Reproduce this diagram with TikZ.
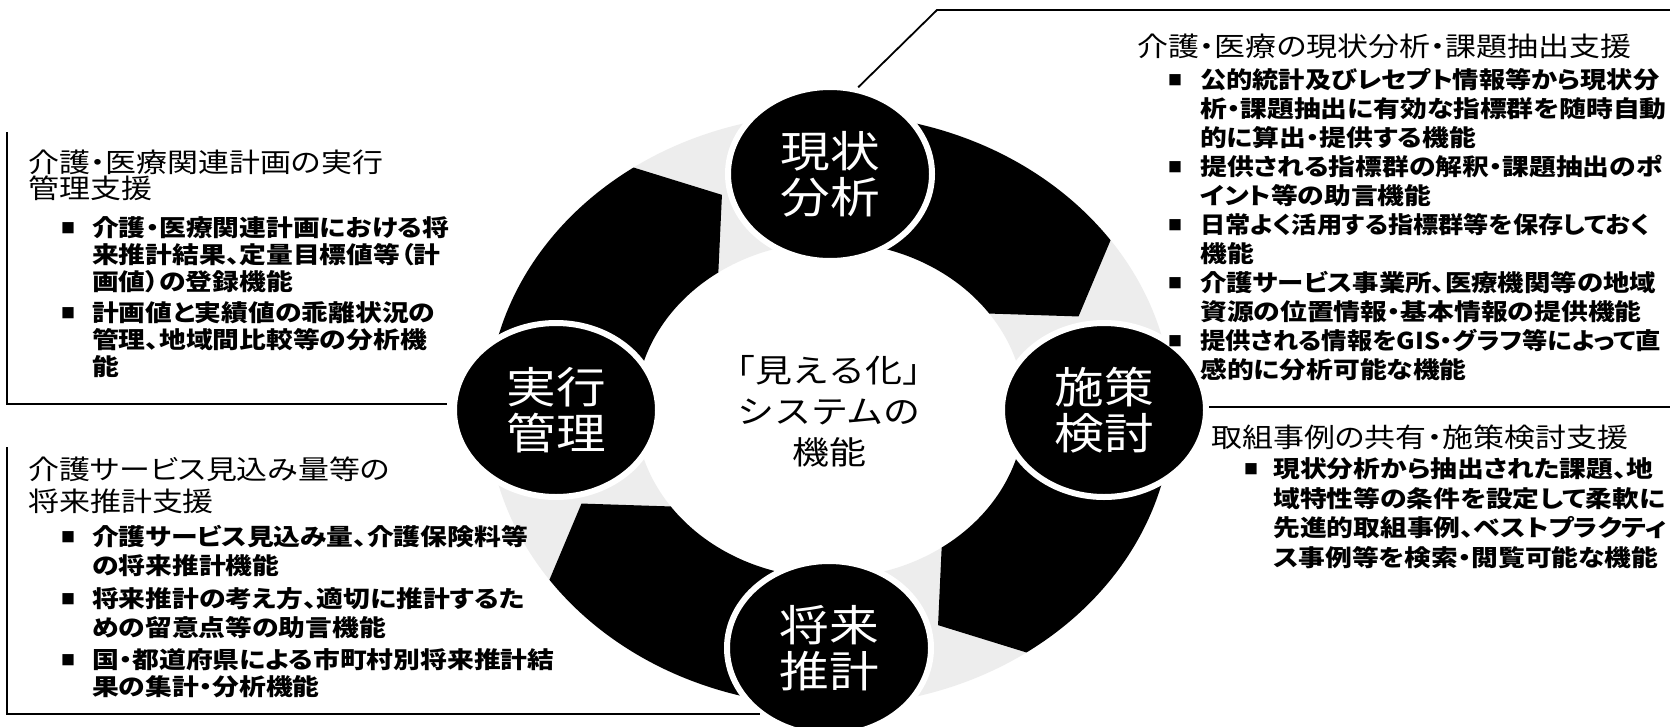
\documentclass[tikz,border=0pt]{standalone}
\usepackage{fontspec}
\usepackage{graphicx}
\usetikzlibrary{shapes.geometric}
\newfontfamily\jp[FakeStretch=1.155,RawFeature=+palt]{Noto Sans CJK JP}
\newfontfamily\jpw[FakeStretch=1.155]{Noto Sans CJK JP}
\newfontfamily\jpn{Noto Sans CJK JP}
\newcommand\ttlfont{\jp\fontsize{26.8}{26.8}\selectfont}
\newcommand\bdyfont{\jp\bfseries\fontsize{23.2}{23.2}\selectfont}
\newcommand\bulfont{\jpn\fontsize{14}{14}\selectfont}
\newcommand\hubfont{\jpw\fontsize{43}{46}\selectfont}
\newcommand\cenfont{\jpw\fontsize{32}{41}\selectfont}
\newcommand\sqz[2]{\scalebox{#1}[1]{#2}}
% ring segment: #1 start angle (hidden under a hub), #2 end corner angle
\newcommand\ringseg[2]{%
  \fill[black] plot[domain=0:1, samples=60]
      ({830+342.5*cos(#2+(#1-(#2))*\x)},{410-296*sin(#2+(#1-(#2))*\x)})
    -- plot[domain=0:1, samples=60]
      ({830+194.5*cos(#1+(#2-(#1))*\x)},{410-168*sin(#1+(#2-(#1))*\x)})
    -- ({830+271*cos(#2-11.5)},{410-234.6*sin(#2-11.5)}) -- cycle;}
\begin{document}
\begin{tikzpicture}[x=1pt,y=-1pt,
  ttl/.style={anchor=base west, inner sep=0, font=\ttlfont},
  bdy/.style={anchor=base west, inner sep=0, font=\bdyfont},
  bul/.style={anchor=base west, inner sep=0, font=\bulfont},
  hub/.style={ellipse, fill=black, draw=white, line width=6pt,
    minimum width=204pt, minimum height=174pt, inner sep=0pt,
    text=white, align=center, font=\hubfont},
  leader/.style={line width=1.8pt, draw=black}]
\useasboundingbox (0,0) rectangle (1670,726);
\clip (0,0) rectangle (1670,726);
\fill[white] (0,0) rectangle (1670,726);

% ring
\fill[black!7, even odd rule] (830,410) ellipse [x radius=342.5pt, y radius=296pt]
  (830,410) ellipse [x radius=194.5pt, y radius=168pt];
\ringseg{90}{35}
\ringseg{0}{-55}
\ringseg{-90}{-145}
\ringseg{-180}{-235}

% hubs
\node[hub] (gen) at (830,174) {現状\\分析};
\node[hub] (sak) at (1104,410) {施策\\検討};
\node[hub] (sho) at (829,648) {将来\\推計};
\node[hub] (jik) at (556,410) {実行\\管理};
\node[align=center, font=\cenfont, inner sep=0] (cen) at (829,411) {「見える化」\\システムの\\機能};

% leaders
\coordinate (trc) at (937,10);
\coordinate (tre) at (1670,10);
\draw[leader] (gen.72) -- (trc) -- (tre);
\coordinate (tl1) at (7,132);
\coordinate (tl2) at (7,404);
\coordinate (tl3) at (447,404);
\draw[leader] (tl1) -- (tl2) -- (tl3);
\coordinate (bl1) at (7,447);
\coordinate (bl2) at (7,714);
\coordinate (bl3) at (760,714);
\draw[leader] (bl1) -- (bl2) -- (bl3);
\coordinate (rm1) at (1670,407);
\draw[leader] (sak.east |- rm1) -- (rm1);

% top-right block
\node[ttl] (tr0) at (1137,56) {介護・医療の現状分析・課題抽出支援};
\node[bul] (trb1) at (1168,85.3) {■};
\node[bdy] (tr1a) at (1200,88.8) {\sqz{0.98}{公的統計及びレセプト情報等から現状分}};
\node[bdy] (tr1b) at (1200,117.8) {析・課題抽出に有効な指標群を随時自動};
\node[bdy] (tr1c) at (1200,146.8) {的に算出・提供する機能};
\node[bul] (trb2) at (1168,172.3) {■};
\node[bdy] (tr2a) at (1200,175.8) {提供される指標群の解釈・課題抽出のポ};
\node[bdy] (tr2b) at (1200,204.8) {イント等の助言機能};
\node[bul] (trb3) at (1168,230.3) {■};
\node[bdy] (tr3a) at (1200,233.8) {\sqz{0.94}{日常よく活用する指標群等を保存しておく}};
\node[bdy] (tr3b) at (1200,262.8) {機能};
\node[bul] (trb4) at (1168,288.3) {■};
\node[bdy] (tr4a) at (1200,291.8) {\sqz{0.985}{介護サービス事業所、医療機関等の地域}};
\node[bdy] (tr4b) at (1200,320.8) {資源の位置情報・基本情報の提供機能};
\node[bul] (trb5) at (1168,346.3) {■};
\node[bdy] (tr5a) at (1200,349.8) {\sqz{0.945}{提供される情報をGIS・グラフ等によって直}};
\node[bdy] (tr5b) at (1200,378.8) {感的に分析可能な機能};

% top-left block
\node[ttl] (tl0a) at (28,172.5) {介護・医療関連計画の実行};
\node[ttl] (tl0b) at (28,198.5) {管理支援};
\node[bul] (tlb1) at (61,233.3) {■};
\node[bdy] (tl1a) at (92,236.8) {介護・医療関連計画における将};
\node[bdy] (tl1b) at (92,263.8) {来推計結果、定量目標値等（計};
\node[bdy] (tl1c) at (92,290.8) {画値）の登録機能};
\node[bul] (tlb2) at (61,318.3) {■};
\node[bdy] (tl2a) at (92,321.8) {計画値と実績値の乖離状況の};
\node[bdy] (tl2b) at (92,348.8) {管理、地域間比較等の分析機};
\node[bdy] (tl2c) at (92,375.8) {能};

% bottom-left block
\node[ttl] (bl0a) at (28,479) {介護サービス見込み量等の};
\node[ttl] (bl0b) at (28,511) {将来推計支援};
\node[bul] (blb1) at (61,542.3) {■};
\node[bdy] (bl1a) at (92,545.8) {介護サービス見込み量、介護保険料等};
\node[bdy] (bl1b) at (92,574.8) {の将来推計機能};
\node[bul] (blb2) at (61,604.3) {■};
\node[bdy] (bl2a) at (92,607.8) {将来推計の考え方、適切に推計するた};
\node[bdy] (bl2b) at (92,636.8) {めの留意点等の助言機能};
\node[bul] (blb3) at (61,665.3) {■};
\node[bdy] (bl3a) at (92,668.8) {国・都道府県による市町村別将来推計結};
\node[bdy] (bl3b) at (92,695.8) {果の集計・分析機能};

% right-middle block
\node[ttl] (rm0) at (1211,447) {取組事例の共有・施策検討支援};
\node[bul] (rmb1) at (1244,474.3) {■};
\node[bdy] (rm1a) at (1273,477.8) {現状分析から抽出された課題、地};
\node[bdy] (rm1b) at (1273,507.3) {域特性等の条件を設定して柔軟に};
\node[bdy] (rm1c) at (1273,536.8) {先進的取組事例、ベストプラクティ};
\node[bdy] (rm1d) at (1273,566.8) {ス事例等を検索・閲覧可能な機能};
\end{tikzpicture}
\end{document}
